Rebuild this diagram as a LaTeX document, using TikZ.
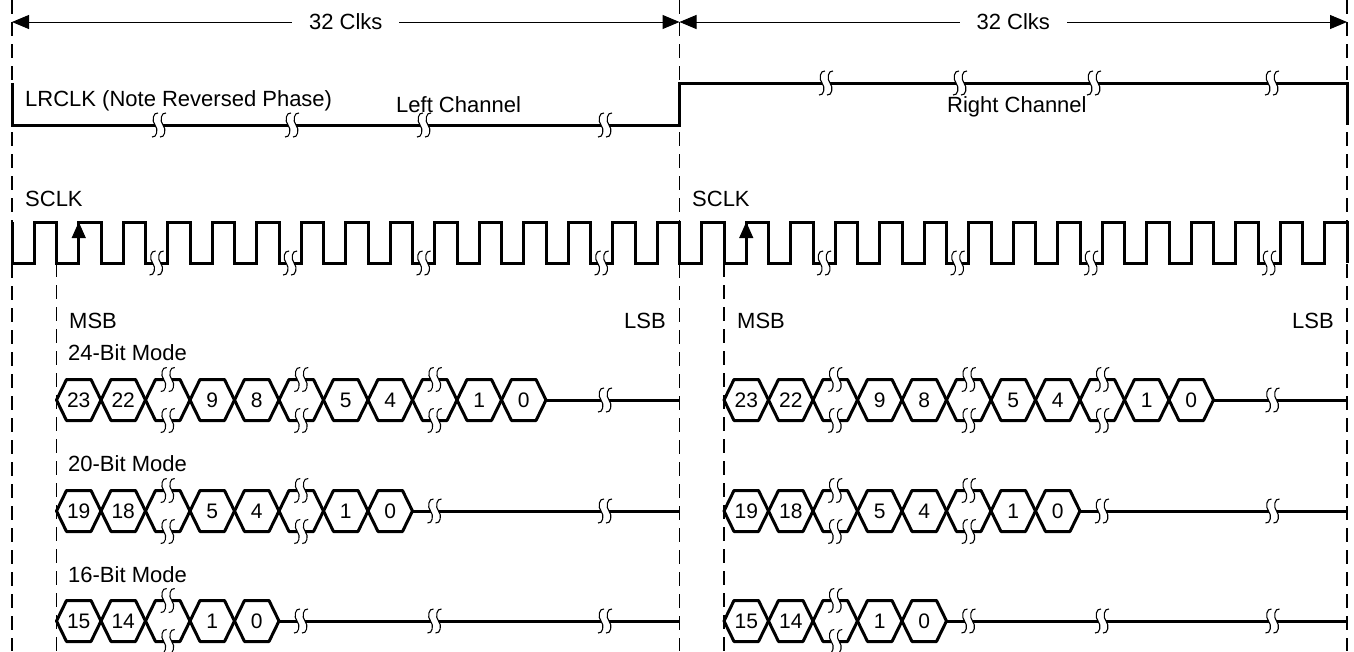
\documentclass[tikz,border=0pt]{standalone}
\usepackage{fontspec}
\setmainfont{Liberation Sans}
\usetikzlibrary{arrows.meta}
\tikzset{
  brk/.pic={
    \fill[white] (-4,-3.5) rectangle (4,3.5);
    \draw[line width=1.1pt]
      (-1,-12) .. controls (-6,-13) and (-7.5,-4) .. (-4,0) .. controls (-0.5,4) and (-2,13) .. (-7,12)
      (7,-12) .. controls (2,-13) and (0.5,-4) .. (4,0) .. controls (7.5,4) and (6,13) .. (1,12);
  }
}
\def\bcgap{-}
\newcommand\bitcell[4]{%
  \draw[bus] (#1,#2) -- ++(10,-20.5) -- ++(24.5,0) -- ++(10,20.5) -- ++(-10,20.5) -- ++(-24.5,0) -- cycle;
  \edef\bctext{#3}%
  \ifx\bctext\bcgap
    \pic at ({#1+22.25},{#2-20.5}) {brk};
    \pic at ({#1+22.25},{#2+20.5}) {brk};
  \else
    \node[font=\fontsize{21}{23}\selectfont] (#4) at ({#1+22.25},#2) {#3};
  \fi}
\begin{document}
\begin{tikzpicture}[x=1pt,y=-1pt,
    font=\fontsize{22}{25}\selectfont,
    sig/.style={line width=3pt},
    bus/.style={line width=3pt,line join=round},
    guide/.style={line width=1.2pt,dash pattern=on 14pt off 8pt},
    span/.style={line width=1pt,{Triangle[length=17pt,width=14pt]}-{Triangle[length=17pt,width=14pt]}},
    lbl/.style={anchor=base west,inner sep=0pt}]
  \useasboundingbox (0,0) rectangle (1354,651);
  \coordinate (lft) at (12,22);
  \coordinate (mid) at (679.5,22);
  \coordinate (rgt) at (1347,22);
  \draw[guide] (12,0) -- (12,651) (679.5,0) -- (679.5,651) (1347,0) -- (1347,651)
    (56.5,263) -- (56.5,651) (724,263) -- (724,651);
  \draw[span] (lft) -- (mid);
  \draw[span] (mid) -- (rgt);
  \node[fill=white,inner xsep=17pt,inner ysep=2pt] (clksL) at (345.75,22) {32 Clks};
  \node[fill=white,inner xsep=17pt,inner ysep=2pt] (clksR) at (1013.25,22) {32 Clks};
  \draw[sig] (12,83) -- (12,125) -- (679.5,125) -- (679.5,83) -- (1347,83) -- (1347,125);
  \foreach \x in {159,292,424,605} \pic at (\x,125) {brk};
  \foreach \x in {826,960,1094,1272} \pic at (\x,83) {brk};
  \node[lbl] (lrclk) at (25,106) {LRCLK (Note Reversed Phase)};
  \node[lbl] (lchan) at (396,112) {Left Channel};
  \node[lbl] (rchan) at (947,112) {Right Channel};
  \draw[sig] (12,222) -- (12,263) \foreach \n in {1,...,30}{ -- ++(22.25,0) -- ++(0,-41) -- ++(22.25,0) -- ++(0,41)};
  \foreach \x in {156.6,290.1,423.6,601.6,824.1,957.6,1091.1,1269.1} \pic at (\x,263) {brk};
  \draw[line width=1pt,-{Triangle[length=16pt,width=14pt]}] (78.75,255) -- (78.75,222);
  \draw[line width=1pt,-{Triangle[length=16pt,width=14pt]}] (746.25,255) -- (746.25,222);
  \node[lbl] (sclkL) at (25,206) {SCLK};
  \node[lbl] (sclkR) at (692,206) {SCLK};
  \node[lbl] (msbL) at (69,328) {MSB};
  \node[lbl,anchor=base east] (lsbL) at (666,328) {LSB};
  \node[lbl] (msbR) at (737,328) {MSB};
  \node[lbl,anchor=base east] (lsbR) at (1334,328) {LSB};
  \node[lbl] (m24) at (68,360) {24-Bit Mode};
  \node[lbl] (m20) at (68,471) {20-Bit Mode};
  \node[lbl] (m16) at (68,582) {16-Bit Mode};
  \foreach \h/\s in {0/L,667.5/R}{
    \foreach \t [count=\i from 0] in {23,22,-,9,8,-,5,4,-,1,0}
      \bitcell{56.5+\h+44.5*\i}{400}{\t}{r24\s\i};
    \foreach \t [count=\i from 0] in {19,18,-,5,4,-,1,0}
      \bitcell{56.5+\h+44.5*\i}{511}{\t}{r20\s\i};
    \foreach \t [count=\i from 0] in {15,14,-,1,0}
      \bitcell{56.5+\h+44.5*\i}{621}{\t}{r16\s\i};
    \draw[bus] (546+\h,400) -- (679.5+\h,400);
    \draw[bus] (412.5+\h,511) -- (679.5+\h,511);
    \draw[bus] (279+\h,621) -- (679.5+\h,621);
    \pic at (605+\h,400) {brk};
    \foreach \x in {434.5,605} \pic at (\x+\h,511) {brk};
    \foreach \x in {301,434.5,605} \pic at (\x+\h,621) {brk};
  }
\end{tikzpicture}
\end{document}
